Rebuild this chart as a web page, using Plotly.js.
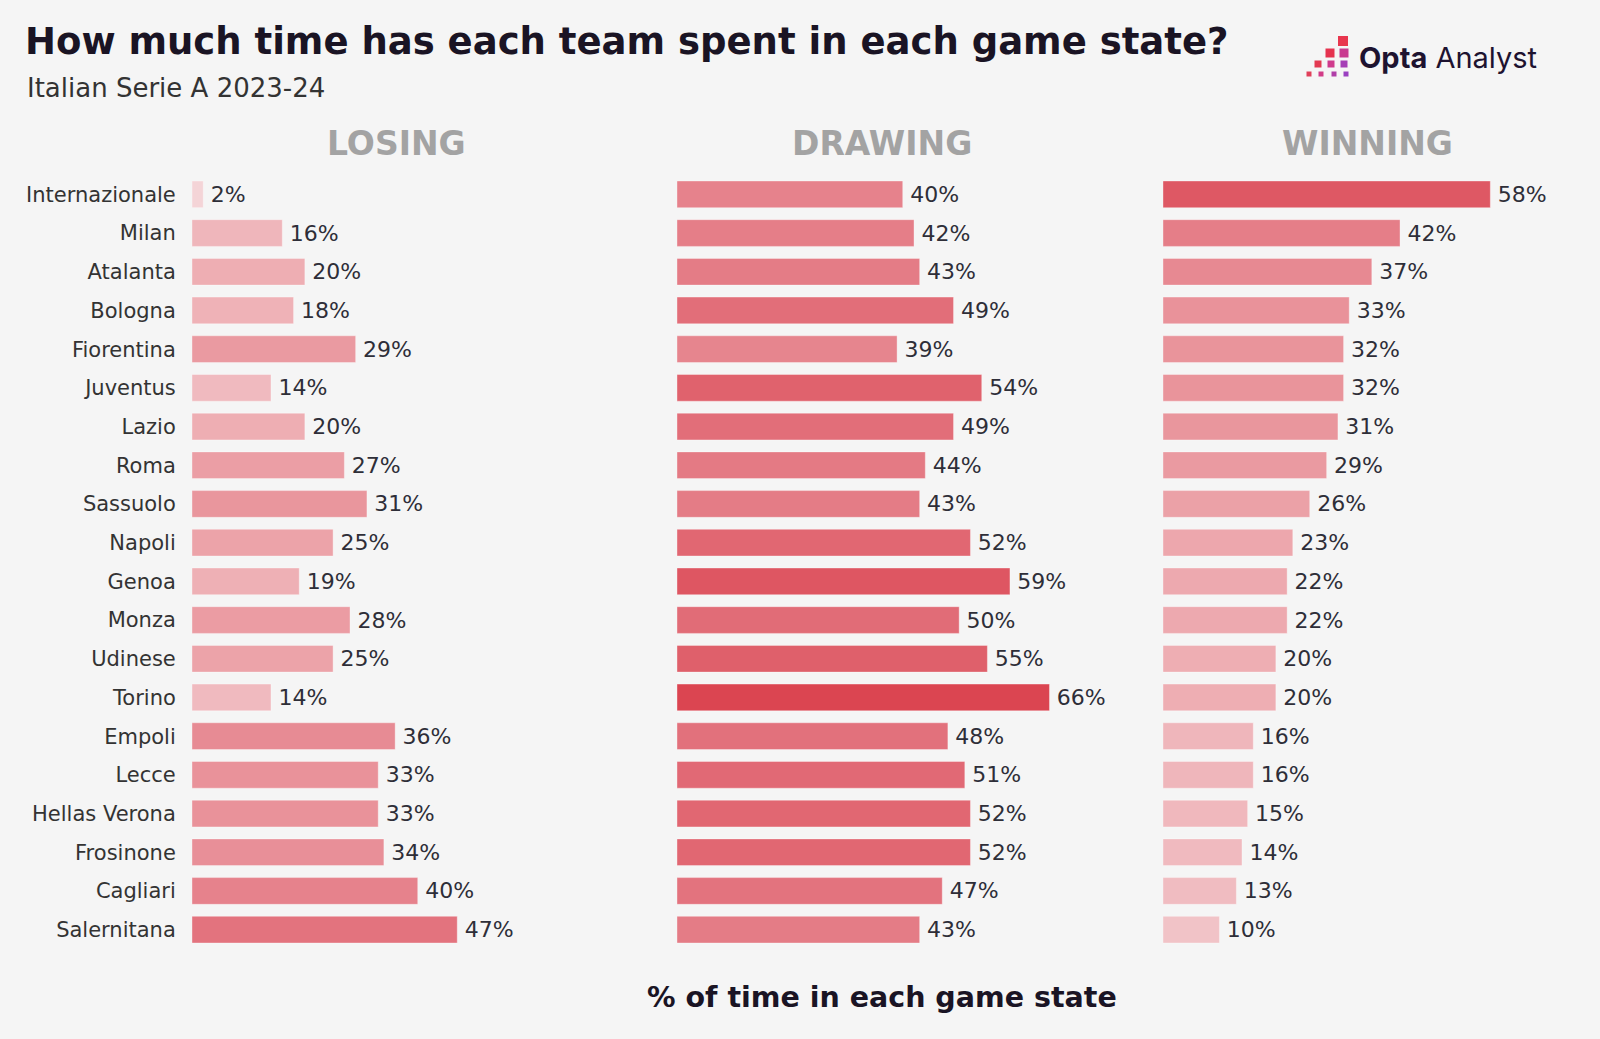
<!DOCTYPE html>
<html>
<head>
<meta charset="utf-8">
<script src="https://cdn.plot.ly/plotly-3.0.1.min.js"></script>
<style>
  html, body { margin: 0; padding: 0; background: #f5f5f5; }
  #chart { width: 1600px; height: 1039px; }
</style>
</head>
<body>
<div id="chart"></div>
<script>
const teams = ["Internazionale","Milan","Atalanta","Bologna","Fiorentina","Juventus","Lazio","Roma","Sassuolo","Napoli","Genoa","Monza","Udinese","Torino","Empoli","Lecce","Hellas Verona","Frosinone","Cagliari","Salernitana"];
const losing  = [2,16,20,18,29,14,20,27,31,25,19,28,25,14,36,33,33,34,40,47];
const drawing = [40,42,43,49,39,54,49,44,43,52,59,50,55,66,48,51,52,52,47,43];
const winning = [58,42,37,33,32,32,31,29,26,23,22,22,20,20,16,16,15,14,13,10];
const panelTitles = ["LOSING","DRAWING","WINNING"];
const titleText = "How much time has each team spent in each game state?";
const subtitleText = "Italian Serie A 2023-24";
const xAxisLabel = "% of time in each game state";

const W = 1600, H = 1039;
const M = {l: 192, r: 16, t: 175, b: 90};
const PW = W - M.l - M.r, PH = H - M.t - M.b;
const px2x = px => (px - M.l) / PW;
const px2y = py => (H - M.b - py) / PH;

const colorscale = [[0, '#f5d8db'], [0.3, '#eeaeb3'], [0.7, '#e37580'], [1, '#db4551']];
const FONT = '"DejaVu Sans", sans-serif';

function barTrace(vals, xa) {
  return {
    type: 'bar', orientation: 'h',
    y: teams, x: vals, xaxis: xa, yaxis: 'y',
    marker: {color: vals, colorscale: colorscale, cmin: 0, cmax: 66,
             line: {width: 1, color: 'rgba(255,255,255,0.35)'}},
    texttemplate: '\u2009%{x}%', textposition: 'outside',
    textfont: {family: FONT, size: 22, color: '#2e2e38'},
    constraintext: 'none', cliponaxis: false,
    hoverinfo: 'skip', showlegend: false
  };
}

const data = [barTrace(losing, 'x'), barTrace(drawing, 'x2'), barTrace(winning, 'x3')];

const dom1 = [0, px2x(613)];
const dom2 = [px2x(677), px2x(1098)];
const dom3 = [px2x(1163), 1];
const xBase = {range: [0, 74.6], showgrid: false, zeroline: false, showticklabels: false, ticks: '', fixedrange: true};

const annotations = [
  {text: subtitleText, xref: 'paper', yref: 'paper', x: px2x(25), y: px2y(88), xanchor: 'left', yanchor: 'middle',
   showarrow: false, font: {family: FONT, size: 26, color: '#333333'}},
  {text: '<b>' + xAxisLabel + '</b>', xref: 'paper', yref: 'paper', x: px2x(882), y: px2y(997), xanchor: 'center', yanchor: 'middle',
   showarrow: false, font: {family: FONT, size: 28.5, color: '#1a1424'}},
  {text: '<b>Opta</b> Analyst', xref: 'paper', yref: 'paper', x: px2x(1357), y: px2y(58), xanchor: 'left', yanchor: 'middle',
   showarrow: false, font: {family: 'Inter, sans-serif', size: 29, color: '#1e1330'}}
];
const headerX = [396, 882, 1367];
panelTitles.forEach((t, i) => annotations.push({
  text: '<b>' + t + '</b>', xref: 'paper', yref: 'paper', x: px2x(headerX[i]), y: px2y(143),
  xanchor: 'center', yanchor: 'middle', showarrow: false,
  font: {family: FONT, size: 33, color: '#a3a3a3'}
}));

// Opta logo squares (decoration)
const logoSq = [
  [1343, 41, 10, '#e8364e'],
  [1330, 53, 9, '#e5334f'], [1344, 53, 9, '#c93b8f'],
  [1318, 64, 7, '#e33a52'], [1331, 64, 7, '#cf3b8c'], [1344, 64, 7, '#a63fb6'],
  [1309, 74, 5, '#e0405a'], [1321, 74, 5, '#d23c88'], [1334, 74, 5, '#b03fa8'], [1346, 74, 5, '#9a40c0']
];
const shapes = logoSq.map(([cx, cy, s, c]) => ({
  type: 'rect', xref: 'paper', yref: 'paper',
  x0: px2x(cx - s/2), x1: px2x(cx + s/2), y0: px2y(cy + s/2), y1: px2y(cy - s/2),
  fillcolor: c, line: {width: 0}
}));

const layout = {
  width: W, height: H,
  paper_bgcolor: '#f5f5f5', plot_bgcolor: '#f5f5f5',
  margin: M,
  bargap: 0.31,
  title: {text: '<b>' + titleText + '</b>', xref: 'container', yref: 'container',
          x: 25/W, xanchor: 'left', y: 1 - 41/H, yanchor: 'middle',
          font: {family: FONT, size: 37, color: '#1a1424'}},
  xaxis: Object.assign({domain: dom1, anchor: 'y'}, xBase),
  xaxis2: Object.assign({domain: dom2, anchor: 'y'}, xBase),
  xaxis3: Object.assign({domain: dom3, anchor: 'y'}, xBase),
  yaxis: {autorange: 'reversed', anchor: 'x', showgrid: false, zeroline: false, showline: false,
          ticks: 'outside', ticklen: 11, tickcolor: 'rgba(0,0,0,0)',
          tickfont: {family: FONT, size: 21, color: '#333333'}, fixedrange: true},
  annotations: annotations,
  shapes: shapes
};

Plotly.newPlot('chart', data, layout, {displayModeBar: false, staticPlot: true});
</script>
</body>
</html>
